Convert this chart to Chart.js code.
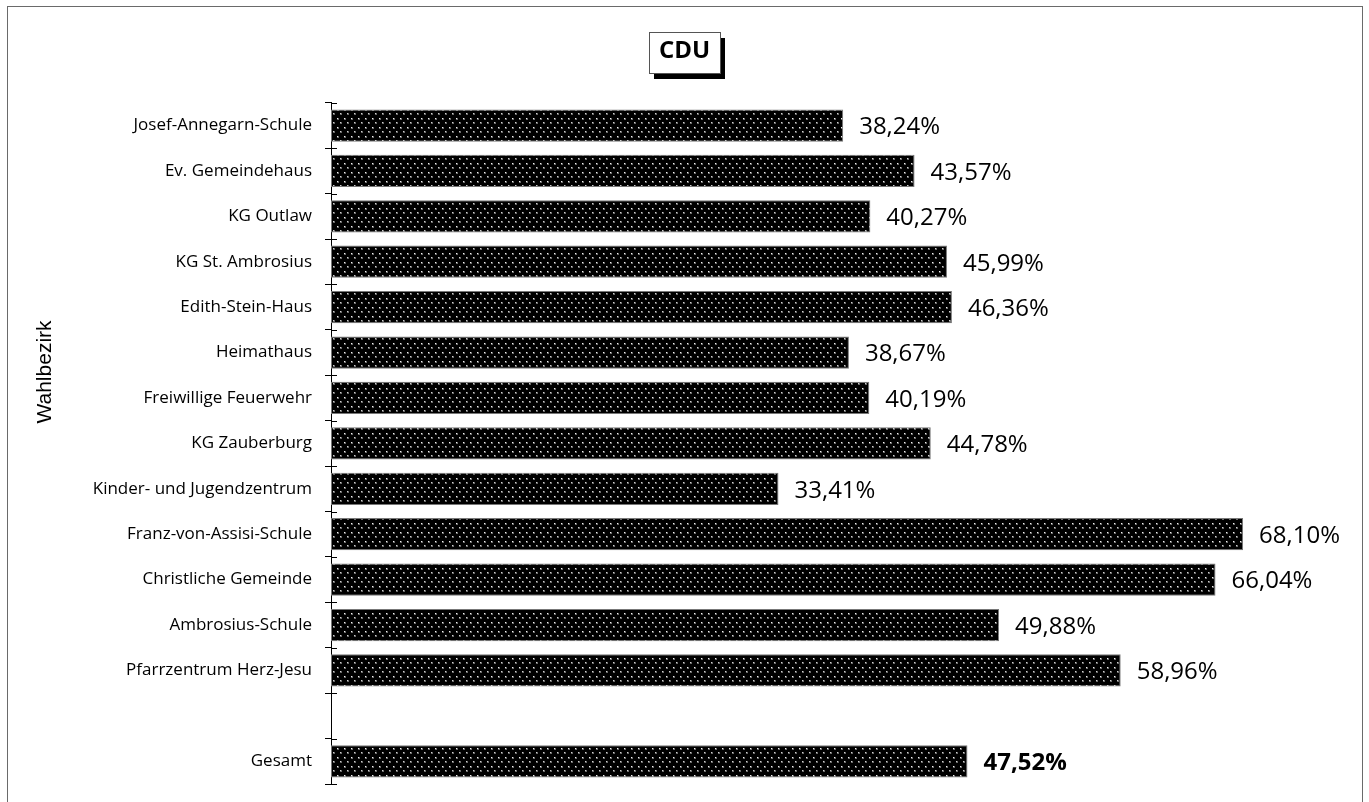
<!DOCTYPE html>
<html>
<head>
<meta charset="utf-8">
<script src="https://cdn.jsdelivr.net/npm/chart.js@4"></script>
<style>
  html,body{margin:0;padding:0;background:#fff;}
  #wrap{position:relative;width:1369px;height:802px;}
  #frame{position:absolute;left:7px;top:6px;width:1356px;height:800px;border:1px solid #6a6a6a;border-bottom:none;box-sizing:border-box;pointer-events:none;}
  canvas{position:absolute;left:0;top:0;}
</style>
</head>
<body>
<div id="wrap">
  <canvas id="chart" width="1369" height="802"></canvas>
  <div id="frame"></div>
</div>
<script>
const districts=['Josef-Annegarn-Schule','Ev. Gemeindehaus','KG Outlaw','KG St. Ambrosius','Edith-Stein-Haus','Heimathaus','Freiwillige Feuerwehr','KG Zauberburg','Kinder- und Jugendzentrum','Franz-von-Assisi-Schule','Christliche Gemeinde','Ambrosius-Schule','Pfarrzentrum Herz-Jesu','','Gesamt'];
const shares=[38.24,43.57,40.27,45.99,46.36,38.67,40.19,44.78,33.41,68.10,66.04,49.88,58.96,null,47.52];
const totalIndex=14;
const axisTitle='Wahlbezirk';

// dotted black fill like the original
function dots(){
  const c=document.createElement('canvas');c.width=7;c.height=9;
  const g=c.getContext('2d');
  g.fillStyle='#000';g.fillRect(0,0,7,9);
  g.fillStyle='#6a6a6a';g.fillRect(1,1,2,2);g.fillRect(4,5,2,2);
  g.fillStyle='#f4f4f4';g.fillRect(1,1,1,1);
  g.fillStyle='#d0d0d0';g.fillRect(4,5,1,1);
  return g.createPattern(c,'repeat');
}

const titleBox={
  id:'titleBox',
  beforeDraw(chart){
    const t=chart.titleBlock,ctx=chart.ctx;
    const cx=(t.left+t.right)/2;
    const w=71,h=41,x=Math.round(cx-w/2),y=32;
    ctx.save();
    ctx.fillStyle='#000';ctx.fillRect(x+5,y+6,w,h);
    ctx.fillStyle='#fff';ctx.fillRect(x,y,w,h);
    ctx.strokeStyle='#555';ctx.lineWidth=1;ctx.strokeRect(x+0.5,y+0.5,w,h);
    ctx.restore();
  }
};

const axisMarks={
  id:'axisMarks',
  afterDraw(chart){
    const ctx=chart.ctx,y=chart.scales.y,x0=chart.chartArea.left;
    const step=(y.bottom-y.top)/districts.length;
    ctx.save();
    ctx.strokeStyle='#000';ctx.lineWidth=1;
    for(let i=0;i<=districts.length;i++){
      const p=Math.round(y.top+i*step)+0.5;
      ctx.beginPath();ctx.moveTo(x0,p);ctx.lineTo(x0+6,p);ctx.stroke();
    }
    // axis title, sitting a bit above the middle as in the original
    ctx.save();
    ctx.translate(45,372);ctx.rotate(-Math.PI/2);
    ctx.font='21px "Liberation Sans"';ctx.textAlign='center';ctx.textBaseline='middle';ctx.fillStyle='#000';
    ctx.fillText(axisTitle,0,0);
    ctx.restore();
    // value labels
    const meta=chart.getDatasetMeta(0);
    ctx.textBaseline='middle';ctx.textAlign='left';ctx.fillStyle='#000';
    meta.data.forEach((bar,i)=>{
      if(shares[i]==null)return;
      ctx.font=(i===totalIndex?'bold ':'')+'24px "Open Sans"';
      ctx.fillText(shares[i].toFixed(2).replace('.',',')+'%',bar.x+16,bar.y+2);
    });
    ctx.restore();
  }
};

new Chart(document.getElementById('chart'),{
  type:'bar',
  data:{labels:districts,datasets:[{data:shares,backgroundColor:dots(),borderColor:'#777',borderWidth:1,borderSkipped:false,barPercentage:0.71,categoryPercentage:1}]},
  options:{
    indexAxis:'y',responsive:false,animation:false,
    layout:{padding:{left:0,right:0,top:0,bottom:18}},
    plugins:{
      legend:{display:false},tooltip:{enabled:false},
      title:{display:true,text:'CDU',color:'#000',font:{family:'"Open Sans"',size:24,weight:'bold'},padding:{top:37,bottom:37}}
    },
    scales:{
      x:{display:false,min:0,max:77.5},
      y:{
        afterFit(s){s.width=331;s.paddingTop=0;s.paddingBottom=0;},
        border:{display:true,color:'#000',width:1},
        grid:{offset:true,drawOnChartArea:false,tickLength:6,color:'#000'},
        ticks:{color:'#000',padding:13,font:{family:'"Open Sans"',size:17}}
      }
    }
  },
  plugins:[titleBox,axisMarks]
});
</script>
</body>
</html>
